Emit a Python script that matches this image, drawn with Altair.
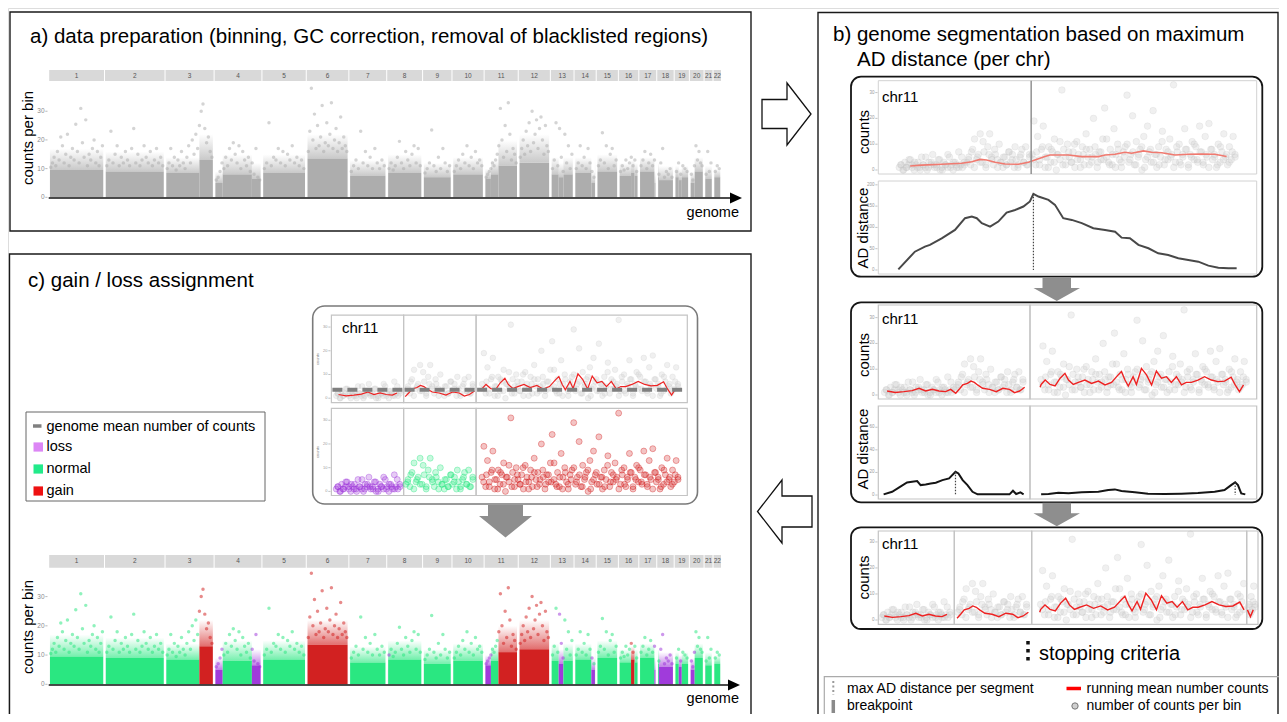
import altair as alt
import pandas as pd

FONT = "Liberation Sans"
OX, OY = 8, 8

# ------------------------------------------------------------------ data
chrom_names = [str(i) for i in range(1, 23)]
chrom_bins = [224, 243, 197, 192, 178, 171, 152, 144, 118, 129, 137, 129,
              95, 89, 89, 82, 72, 70, 61, 59, 36, 34]

seg_chrom = ["1", "2", "3", "3", "4", "4", "4", "5", "6", "7", "8", "8", "9", "10",
             "11", "11", "11", "12", "13", "13", "13", "14", "14", "14", "15",
             "16", "16", "16", "17", "17", "18", "18", "19", "19", "19", "20", "20",
             "21", "21", "22"]
seg_from = [0, 0, 0, 0.7, 0, 0.18, 0.79, 0, 0, 0, 0, 0.04, 0, 0, 0, 0.2, 0.42, 0,
            0, 0.35, 0.55, 0, 0.78, 0.95, 0, 0, 0.62, 0.79, 0, 0.87, 0, 0.12,
            0, 0.3, 0.5, 0, 0.36, 0, 0.12, 0]
seg_to = [1, 1, 0.7, 1, 0.18, 0.79, 1, 1, 1, 1, 0.04, 1, 1, 1, 0.2, 0.42, 1, 1,
          0.35, 0.55, 1, 0.78, 0.95, 1, 1, 0.62, 0.79, 1, 0.87, 1, 0.12, 1,
          0.3, 0.5, 1, 0.36, 1, 0.12, 1, 1]
seg_state = ["normal", "normal", "normal", "gain", "loss", "normal", "loss", "normal",
             "gain", "normal", "loss", "normal", "normal", "normal", "loss", "normal",
             "gain", "gain", "normal", "loss", "normal", "normal", "loss", "normal",
             "normal", "normal", "gain", "normal", "normal", "loss", "normal", "loss",
             "normal", "loss", "normal", "loss", "normal", "loss", "normal", "normal"]
# top of the solid cloud and top of the still-dense scatter above it (counts)
seg_top = [9.5, 9, 8.5, 13, 5, 8, 6.5, 8.5, 13.5, 7.5, 5, 8.5, 7, 8, 6.5, 8, 11, 12,
           8, 7, 8, 8.5, 5, 8.5, 9, 7.5, 8.5, 7.5, 9, 5, 7, 6, 7, 6, 7, 5, 9, 6, 6.5, 7]
seg_fringe = [17, 16, 14, 22, 9, 15, 12, 15, 22, 13, 9, 15, 12, 14, 10, 13, 20, 22,
              14, 12, 14, 14, 9, 14, 15, 12, 13, 12, 14, 9, 12, 11, 11, 10, 11, 9, 14,
              10, 11, 10]

out_chr1 = [10.5, 12, 14, 11, 16, 13, 21, 18, 12, 15, 22, 11, 14, 17, 13, 25.5, 16, 12,
            31, 19, 14, 27, 11, 15, 13, 17, 20, 12, 16, 11, 14, 18]
out_chr2 = [11, 13, 23, 12, 15, 18, 11, 14, 12, 16, 13, 11, 17, 24, 12, 15, 11, 13, 18,
            14, 12, 16, 11, 13, 17, 12, 14, 11]
out_chr3 = [10, 12, 17, 11, 14, 9.5, 13, 11, 16, 12, 10, 14, 18, 12, 20, 15, 22, 17, 25,
            30, 32.5, 24, 19, 21, 16, 14]
out_chr4 = [6, 7, 9, 12, 10, 14, 11, 17, 13, 19, 15, 12, 18, 10, 16, 13, 11, 14, 9, 12,
            8, 17, 7, 6]
out_chr5 = [10, 12, 26, 11, 14, 13, 17, 12, 16, 11, 15, 13, 18, 12, 14, 11, 13, 10]
out_chr6 = [16, 23, 38, 20, 29, 17, 25, 18, 21, 32, 16, 19, 26, 18, 22, 33, 17, 20, 24,
            16, 19, 28, 17, 21, 18, 16]
out_chr7 = [9, 11, 13, 10, 23, 12, 16, 11, 14, 10, 17, 12, 10, 13, 11]
out_chr8 = [10, 12, 9.5, 11, 14, 19.5, 12, 10, 16, 13, 11, 15, 18, 12, 17, 11]
out_chr9 = [8.5, 10, 12, 23.5, 11, 9, 14, 10, 17, 12, 9, 11]
out_chr10 = [9, 11, 13, 10, 15, 12, 18, 11, 14, 10, 16, 12, 13, 11]
out_chr11 = [7, 8, 9, 10, 12, 11, 13, 15, 18, 31, 20, 14, 25, 16, 33, 22, 13, 17, 15, 12]
out_chr12 = [14, 17, 20, 15, 23, 18, 26, 16, 30, 19, 22, 27, 17, 24, 28, 20, 15, 25, 18, 16]
out_chr13 = [10, 13, 26, 11, 24, 14, 9, 22, 12, 18, 10, 15]
out_chr14 = [10, 12, 18, 11, 14, 10, 17, 12, 9, 7]
out_chr15 = [11, 13, 22.5, 12, 18, 10, 15, 17, 11, 13]
out_chr16 = [9, 11, 9.5, 13, 10, 12, 14, 11, 13, 9]
out_chr17 = [11, 13, 16, 10, 12, 15, 11, 13]
out_chr18 = [8, 12, 17, 7, 9, 8, 10, 7]
out_chr19 = [9, 12, 8, 11, 10, 9]
out_chr20 = [8, 6, 11, 18, 13, 16, 12, 11]
out_chr21 = [8, 16, 9, 12]
out_chr22 = [9, 11, 10]
genome_outliers = [out_chr1, out_chr2, out_chr3, out_chr4, out_chr5, out_chr6, out_chr7,
                   out_chr8, out_chr9, out_chr10, out_chr11, out_chr12, out_chr13,
                   out_chr14, out_chr15, out_chr16, out_chr17, out_chr18, out_chr19,
                   out_chr20, out_chr21, out_chr22]

count_ticks = [0, 10, 20, 30]
ad1_ticks = [0, 50, 100, 150, 200]
ad2_ticks = [0, 20, 40, 60]

# chr11 counts per bin (segments: loss 0-27, normal 27-53, gain 53-135 Mb);
# two interleaved series of bins per segment
chr11_loss_counts = [1, 2, 0, 3, 1, 2, 4, 1, 0, 2, 3, 1, 5, 2, 1, 0, 3, 2, 6, 1, 2, 4, 0,
                     1, 3, 2, 1, 5, 2, 0, 3, 1, 7, 2, 1, 3]
chr11_loss_counts_b = [2, 0, 1, 4, 2, 3, 1, 0, 2, 5, 1, 3, 2, 1, 4, 0, 2, 6, 1, 3, 2, 1,
                       5, 2]
chr11_normal_counts = [3, 5, 2, 8, 12, 4, 6, 14, 3, 7, 1, 9, 14, 5, 2, 6, 4, 10, 3, 1, 5,
                       2, 7, 3, 6, 1, 4, 2, 5, 8, 3, 9, 2, 6]
chr11_normal_counts_b = [4, 7, 1, 5, 3, 11, 2, 6, 4, 8, 1, 3, 5, 2, 7, 4, 9, 1, 6, 3, 2, 5]
chr11_gain_counts = [6, 19, 2, 13, 4, 8, 17, 1, 5, 9, 3, 7, 12, 0, 6, 4, 31, 8, 2, 10,
                     5, 3, 7, 1, 11, 6, 4, 9, 2, 14, 5, 8, 3, 20, 6, 1, 7, 4, 12, 24,
                     5, 3, 8, 2, 16, 6, 10, 4, 1, 7, 9, 29, 3, 6, 21, 2, 11, 5, 8, 0,
                     13, 4, 17, 7, 3, 23, 6, 1, 9, 5, 15, 2, 8, 4, 12, 6, 33, 3, 7, 10,
                     2, 5, 16, 8, 1, 6, 11, 4, 9, 3, 17, 7, 2, 13, 5, 18, 8, 4, 6, 1,
                     10, 3, 7, 14, 5, 2, 9, 4, 13, 6]
chr11_gain_counts_b = [4, 7, 2, 9, 5, 1, 8, 3, 6, 11, 2, 5, 7, 3, 10, 4, 1, 6, 8, 2,
                       5, 9, 3, 7, 4, 12, 2, 6, 1, 8, 3, 5, 10, 4, 7, 2, 6, 9, 1, 5,
                       8, 3, 6, 2, 11, 4, 7, 5, 1, 9, 3, 6, 8, 2, 5, 10, 4, 7, 3, 6,
                       1, 8, 5, 2, 9, 4, 6, 3, 7, 5]
chr11_segments = [("loss", 0, 27), ("normal", 27, 53), ("gain", 53, 135)]

# running means
rm1_pos = [4.7, 9.3, 17.3, 25.3, 29.3, 32.6, 35.2, 38.6, 42.6, 47.9, 51.9, 54.5, 58.5,
           60.5, 63.8, 67.8, 73.2, 79.8, 82.5, 86.5, 90.4, 93.1, 97.8, 101.1, 105.1,
           110.4, 115.7, 121, 126.3, 131]
rm1_val = [1.55, 1.9, 2.2, 2.6, 3.2, 4.1, 3.9, 3.0, 2.3, 2.2, 3.0, 3.9, 5.2, 5.8, 5.8,
           5.8, 5.2, 5.2, 5.8, 6.1, 6.9, 6.5, 7.4, 6.9, 6.7, 5.8, 6.1, 6.2, 6.1, 5.2]
rm2a_pos = [1.3, 4.4, 7.6, 10.7, 13.3, 15.8, 18.3, 20.8, 23.3, 25.2, 27.1, 28.4, 29.7,
            31.5, 32.8, 34.1, 35.3, 37.2, 39.8, 42.3, 44.8, 47.3, 49.2, 51.1, 53]
rm2a_val = [1.55, 1.0, 1.3, 1.7, 2.6, 1.55, 2.2, 1.55, 1.3, 2.2, 0.65, 2.2, 3.9, 4.5,
            5.4, 4.9, 3.9, 2.6, 2.2, 1.3, 2.6, 2.2, 0.9, 1.55, 3.0]
rm2b_pos = [53.4, 55, 56.9, 58.9, 60.9, 62.8, 64.2, 66.1, 68.1, 70.7, 73.3, 76, 78.6,
            81.2, 83.8, 85.1, 86.5, 87.8, 89.7, 91, 93, 95, 97, 98.9, 100.9, 102.9,
            104.8, 106.8, 108.8, 110.7, 112.7, 115.3, 117.9, 120.6, 123.2, 125.8,
            128.4, 130, 131.7, 133.3]
rm2b_val = [4.1, 5.8, 4.1, 3.5, 6.5, 8.4, 5.8, 4.1, 4.9, 5.8, 4.5, 5.4, 3.9, 4.9, 7.8,
            9.1, 5.8, 3.5, 7.1, 4.1, 10.3, 7.8, 3.9, 9.3, 6.5, 7.1, 4.9, 7.1, 3.9, 4.9,
            4.9, 5.8, 7.1, 5.8, 5.2, 5.4, 6.9, 3.9, 1.3, 3.9]

# AD distances
ad1_pos = [0, 6.6, 10.6, 12.6, 17.3, 22.6, 26.6, 29.3, 31.3, 33.3, 36.6, 39.9, 43.2,
           46.6, 49.9, 52.5, 53.9, 55.9, 59.9, 62.5, 65.8, 69.2, 73.2, 77.8, 82.5, 86.5,
           89.1, 92.4, 95.8, 99.8, 103.7, 107.7, 111.7, 115.7, 119.7, 123.7, 127.7,
           131.7, 135]
ad1_val = [1.6, 43, 55, 59, 74.5, 94, 121.6, 125.5, 121.6, 110, 102, 113.7, 135, 141,
           149, 161, 179, 172.5, 164.7, 153, 121.6, 117.6, 110, 98, 94, 90, 76, 74.5,
           59, 51, 39.2, 35.3, 27.5, 23.5, 19.6, 10.2, 5.5, 3.9, 3.9]
ad2a_pos = [0, 3.2, 6.3, 8.8, 10.7, 12.6, 13.9, 15.8, 17.7, 19.6, 22.1, 24.6, 27, 28.1,
            29.7, 31.5, 33.4, 35.3, 41, 47.3, 48.6, 49.8, 51.4, 52.6]
ad2a_val = [0.6, 2.9, 7.4, 11.2, 11.8, 12.4, 8.8, 9.4, 10.3, 10.9, 13.2, 14.7, 20.6,
            19.1, 13.2, 8.8, 2.9, 0.6, 0.6, 0.6, 3.8, 0.9, 2.4, 0.6]
ad2b_pos = [53.4, 56.3, 60.2, 64.2, 69.4, 76, 79.9, 82.5, 85.1, 90.4, 95.6, 102.2,
            108.8, 115.3, 121.9, 125.8, 128.4, 130, 131.1, 132.4, 134]
ad2b_val = [0.6, 0.9, 2.1, 1.5, 2.4, 2.9, 4.4, 5, 3.5, 2.4, 1.2, 0.9, 1.2, 1.8, 2.9,
            4.4, 8.8, 11.2, 8.8, 1.5, 0.6]

breakpoint_1 = [53]
ad1_peak = [(53.9, 179)]
ad2_peaks = [(27, 20.6), (130, 11.2)]
genome_mean = 3.6

state_domain = ["loss", "normal", "gain"]
state_colors = ["#9b30d9", "#1fe67a", "#d01515"]
state_rgb = [(155, 48, 217), (31, 230, 122), (208, 21, 21)]
legend_colors = ["#dc86f5", "#22ea8a", "#ee1111"]
GREY_RGB = (168, 168, 168)

# ------------------------------------------------------------------ helpers
def V(x):
    return x - OX


def W(y):
    return y - OY


def sx(d0, d1, p0, p1):
    return alt.Scale(domain=[d0, d1], range=[V(p0), V(p1)], nice=False, zero=False)


def sy(d0, d1, pb, pt):
    return alt.Scale(domain=[d0, d1], range=[W(pb), W(pt)], nice=False, zero=False)


def rect(x0, y0, x1, y1, fill="transparent", stroke=None, sw=1.0, radius=0):
    kw = dict(fill=fill, cornerRadius=radius)
    if stroke:
        kw.update(stroke=stroke, strokeWidth=sw)
    return alt.Chart().mark_rect(**kw).encode(
        x=alt.value(V(x0)), x2=alt.value(V(x1)), y=alt.value(W(y0)), y2=alt.value(W(y1)))


def text(s, x, y, size=14.5, align="left", angle=0, color="black", baseline="middle"):
    kw = dict(text=s, fontSize=size, align=align, color=color, baseline=baseline, font=FONT)
    if angle:
        kw["angle"] = angle
    return alt.Chart().mark_text(**kw).encode(x=alt.value(V(x)), y=alt.value(W(y)))


def rule(x0, y0, x1, y1, color="black", sw=1.0, dash=None):
    kw = dict(color=color, strokeWidth=sw)
    if dash:
        kw["strokeDash"] = dash
    return alt.Chart().mark_rule(**kw).encode(
        x=alt.value(V(x0)), y=alt.value(W(y0)), x2=alt.value(V(x1)), y2=alt.value(W(y1)))


def polygon(pts, fill, stroke=None, sw=1.0):
    xs_ = [p[0] for p in pts]
    ys_ = [p[1] for p in pts]
    cx = (min(xs_) + max(xs_)) / 2
    cy = (min(ys_) + max(ys_)) / 2
    r = max(max(xs_) - min(xs_), max(ys_) - min(ys_)) / 2
    path = "M" + " L".join(f"{(x - cx) / r:.4f},{(y - cy) / r:.4f}" for x, y in pts) + " Z"
    kw = dict(shape=path, size=(2 * r) ** 2, filled=True, fill=fill, opacity=1, fillOpacity=1)
    if stroke:
        kw.update(stroke=stroke, strokeWidth=sw)
    else:
        kw.update(strokeWidth=0)
    return alt.Chart().mark_point(**kw).encode(x=alt.value(V(cx)), y=alt.value(W(cy)))


def yticks(ticks, ysc, x_right, size, color="#9a9a9a"):
    df = pd.DataFrame({"v": ticks})
    return [
        alt.Chart(df).mark_text(align="right", baseline="middle", fontSize=size,
                                color=color, font=FONT).encode(
            x=alt.value(V(x_right)), y=alt.Y("v:Q", scale=ysc, axis=None), text="v:Q"),
        alt.Chart(df).mark_rule(color=color, strokeWidth=0.6).encode(
            x=alt.value(V(x_right + 0.8)), x2=alt.value(V(x_right + 3)),
            y=alt.Y("v:Q", scale=ysc, axis=None)),
    ]


def line(pos, val, xsc, ysc, color, sw):
    df = pd.DataFrame({"p": pos, "v": val})
    return alt.Chart(df).mark_line(color=color, strokeWidth=sw).encode(
        x=alt.X("p:Q", scale=xsc, axis=None), y=alt.Y("v:Q", scale=ysc, axis=None))


def points(df, xsc, ysc, color, size, opacity, stroke_op=None):
    kw = dict(size=size, color=color, fillOpacity=opacity)
    if stroke_op:
        kw.update(stroke=color, strokeOpacity=stroke_op, strokeWidth=0.7)
    else:
        kw.update(strokeWidth=0)
    return alt.Chart(df).mark_circle(**kw).encode(
        x=alt.X("pos:Q", scale=xsc, axis=None), y=alt.Y("cnt:Q", scale=ysc, axis=None))


def peak_lines(peaks, xsc, ysc, color="#444444", sw=1.2):
    df = pd.DataFrame({"p": [p for p, _ in peaks], "t": [t for _, t in peaks],
                       "b": [0] * len(peaks)})
    return alt.Chart(df).mark_rule(color=color, strokeWidth=sw, strokeDash=[1.5, 1.5]).encode(
        x=alt.X("p:Q", scale=xsc, axis=None), y=alt.Y("t:Q", scale=ysc, axis=None), y2="b:Q")


def fade(rgb, a0, a1):
    r, g, b = rgb
    return alt.LinearGradient(
        gradient="linear", x1=0, y1=1, x2=0, y2=0,
        stops=[alt.GradientStop(offset=0, color=f"rgba({r},{g},{b},{a0})"),
               alt.GradientStop(offset=1, color=f"rgba({r},{g},{b},{a1})")])


# ------------------------------------------------------------------ derived tables
chrom_start = []
acc = 0
for b in chrom_bins:
    chrom_start.append(acc)
    acc += b
total_bins = acc
start_of = dict(zip(chrom_names, chrom_start))
bins_of = dict(zip(chrom_names, chrom_bins))

chrom_df = pd.DataFrame({
    "chrom": chrom_names,
    "x0": [s + 2 for s in chrom_start],
    "x1": [s + b - 2 for s, b in zip(chrom_start, chrom_bins)],
    "mid": [s + b / 2 for s, b in zip(chrom_start, chrom_bins)],
})

seg_rows = []
for c, f0, f1, st, top, fr in zip(seg_chrom, seg_from, seg_to, seg_state, seg_top, seg_fringe):
    s, b = start_of[c], bins_of[c]
    seg_rows.append({"x0": s + max(f0 * b, 5), "x1": s + min(f1 * b, b - 5),
                     "top": top, "fringe": fr, "base": 0, "state": st})
seg_df = pd.DataFrame(seg_rows)

pt_rows = []
for c, vals in zip(chrom_names, genome_outliers):
    s, b = start_of[c], bins_of[c]
    n = len(vals)
    for i, v in enumerate(vals):
        f = (i + 0.5) / n
        st = "normal"
        for cc, f0, f1, sst in zip(seg_chrom, seg_from, seg_to, seg_state):
            if cc == c and f0 <= f < f1:
                st = sst
        pt_rows.append({"x": s + 5 + f * (b - 10), "v": v, "state": st})
gpts_df = pd.DataFrame(pt_rows)

rows11 = []
for (state, p0, p1), series in zip(
        chr11_segments,
        [(chr11_loss_counts, chr11_loss_counts_b),
         (chr11_normal_counts, chr11_normal_counts_b),
         (chr11_gain_counts, chr11_gain_counts_b)]):
    for k, vals in enumerate(series):
        n = len(vals)
        for i, v in enumerate(vals):
            rows11.append({"pos": p0 + (i + 0.5 + 0.37 * k) * (p1 - p0) / (n + 0.4),
                           "cnt": v, "state": state})
pts11 = pd.DataFrame(rows11)

rm2_pos = rm2a_pos + rm2b_pos
rm2_val = rm2a_val + rm2b_val

state_scale = alt.Scale(domain=state_domain, range=state_colors)

L = []

# ------------------------------------------------------------------ frames & titles
L.append(rect(10, 12, 751, 231, stroke="#1a1a1a", sw=1.4))
L.append(rect(818, 12.5, 1278, 760, stroke="#1a1a1a", sw=1.4))
L.append(rect(9.5, 254, 751, 760, stroke="#1a1a1a", sw=1.4))
L.append(text("a) data preparation (binning, GC correction, removal of blacklisted regions)",
              30, 37, size=20.5))
L.append(text("b) genome segmentation based on maximum", 833, 35, size=20.5))
L.append(text("AD distance (per chr)", 857, 60, size=20.5))
L.append(text("c) gain / loss assignment", 28, 281, size=20.5))


# ------------------------------------------------------------------ genome panels
def genome_panel(strip_top, strip_bot, zero_y, top_y, ymax, colored, line_y, tip_x,
                 genome_y, ylab_y):
    out = []
    xsc = sx(0, total_bins, 48.7, 721.5)
    ysc = sy(0, ymax, zero_y, top_y)
    out.append(alt.Chart(chrom_df).mark_rect(color="#d9d9d9").encode(
        x=alt.X("x0:Q", scale=xsc, axis=None), x2="x1:Q",
        y=alt.value(W(strip_top)), y2=alt.value(W(strip_bot))))
    out.append(alt.Chart(chrom_df).mark_text(fontSize=6.5, color="#555555", font=FONT).encode(
        x=alt.X("mid:Q", scale=xsc, axis=None), y=alt.value(W((strip_top + strip_bot) / 2)),
        text="chrom:N"))
    # fading scatter region above the solid cloud
    groups = (list(zip(state_domain, state_rgb)) if colored else [(None, GREY_RGB)])
    for st, rgb in groups:
        df = seg_df if st is None else seg_df[seg_df.state == st]
        out.append(alt.Chart(df).mark_rect(color=fade(rgb, 0.62, 0.0)).encode(
            x=alt.X("x0:Q", scale=xsc, axis=None), x2="x1:Q",
            y=alt.Y("fringe:Q", scale=ysc, axis=None), y2="top:Q"))
    col = (alt.Color("state:N", scale=state_scale, legend=None) if colored
           else alt.value("#a9a9a9"))
    out.append(alt.Chart(gpts_df).mark_circle(size=12, opacity=0.5).encode(
        x=alt.X("x:Q", scale=xsc, axis=None), y=alt.Y("v:Q", scale=ysc, axis=None), color=col))
    out.append(alt.Chart(seg_df).mark_rect(opacity=0.95).encode(
        x=alt.X("x0:Q", scale=xsc, axis=None), x2="x1:Q",
        y=alt.Y("top:Q", scale=ysc, axis=None), y2="base:Q", color=col))
    out += yticks(count_ticks, ysc, 44.5, 6.5, "#8c8c8c")
    out.append(rule(48.7, line_y, 731, line_y, color="#111111", sw=1.6))
    out.append(polygon([(tip_x - 12, line_y - 5.5), (tip_x, line_y), (tip_x - 12, line_y + 5.5)],
                       "black"))
    out.append(text("genome", 739, genome_y, size=14.5, align="right"))
    out.append(text("counts per bin", 28, ylab_y, size=15, align="center", angle=270))
    return out


L += genome_panel(70, 81, 197.3, 82, 40.2, False, 198, 742, 213, 138)
L += genome_panel(555, 567.7, 684.3, 570, 39.1, True, 685, 740, 699, 627)

# ------------------------------------------------------------------ panel b, stage 1
PB = "#d2d2d2"
L.append(rect(851, 76.7, 1262.3, 276.7, fill="white", stroke="#151515", sw=1.8, radius=10))
L.append(rect(878.3, 80.7, 1256.7, 174, stroke=PB))
L.append(rect(878.3, 181, 1256.7, 274, stroke=PB))
b1x = sx(-8, 143, 878.3, 1256.7)
b1y = sy(-1.55, 34.6, 174, 80.7)
b1ad = sy(-9.4, 209, 274, 181)
L.append(points(pts11, b1x, b1y, "#c4c4c4", 44, 0.25, 0.3))
L.append(line(rm1_pos, rm1_val, b1x, b1y, "#f07a70", 1.6))
L.append(alt.Chart(pd.DataFrame({"p": breakpoint_1})).mark_rule(color="#8a8a8a", strokeWidth=1.4).encode(
    x=alt.X("p:Q", scale=b1x, axis=None), y=alt.value(W(80.7)), y2=alt.value(W(174))))
L.append(line(ad1_pos, ad1_val, b1x, b1ad, "#484848", 2.0))
L.append(peak_lines(ad1_peak, b1x, b1ad))
L += yticks(count_ticks, b1y, 874.5, 4.5)
L += yticks(ad1_ticks, b1ad, 874.5, 4.5)
L.append(text("chr11", 882, 97, size=15))
L.append(text("counts", 864, 132, size=15, align="center", angle=270))
L.append(text("AD distance", 863, 228, size=15, align="center", angle=270))

# ------------------------------------------------------------------ panel b, stage 2
L.append(rect(851, 302.3, 1262.3, 502.3, fill="white", stroke="#151515", sw=1.8, radius=10))
b2y = sy(-1.55, 34.9, 399, 305)
b2ad = sy(-3.5, 78.8, 499, 406)
facets2 = [(-2, 55, 878.3, 1030, 0, 53), (49, 138.5, 1030, 1256.7, 53, 135.1)]
for d0, d1, p0, p1, lo, hi in facets2:
    L.append(rect(p0, 305, p1, 399, stroke="#c4c4c4", sw=1.2))
    L.append(rect(p0, 406, p1, 499, stroke="#c4c4c4", sw=1.2))
for k, (d0, d1, p0, p1, lo, hi) in enumerate(facets2):
    fx = sx(d0, d1, p0, p1)
    sub = pts11[(pts11.pos >= lo) & (pts11.pos < hi)]
    L.append(points(sub, fx, b2y, "#c4c4c4", 44, 0.25, 0.3))
    rp = [(p, v) for p, v in zip(rm2_pos, rm2_val) if lo <= p <= hi]
    L.append(line([p for p, _ in rp], [v for _, v in rp], fx, b2y, "#ee2222", 1.4))
    adp, adv = (ad2a_pos, ad2a_val) if k == 0 else (ad2b_pos, ad2b_val)
    L.append(line(adp, adv, fx, b2ad, "#151515", 2.0))
    L.append(peak_lines([ad2_peaks[k]], fx, b2ad))
L += yticks(count_ticks, b2y, 874.5, 4.5)
L += yticks(ad2_ticks, b2ad, 874.5, 4.5)
L.append(text("chr11", 882, 318.5, size=15))
L.append(text("counts", 864, 355, size=15, align="center", angle=270))
L.append(text("AD distance", 863, 449, size=15, align="center", angle=270))

# ------------------------------------------------------------------ panel b, stage 3
L.append(rect(851, 527.3, 1262.3, 629, fill="white", stroke="#151515", sw=1.8, radius=10))
b3y = sy(-1.65, 34.2, 624.3, 531)
facets3 = [(-1, 28, 878.3, 954.3, 0, 27), (26.1, 54.2, 954.3, 1031.7, 27, 53),
           (50, 131, 1031.7, 1246.7, 53, 130), (129.6, 136, 1246.7, 1258, 130, 135.1)]
for d0, d1, p0, p1, lo, hi in facets3:
    L.append(rect(p0, 531, min(p1, 1261), 624.3, stroke="#c4c4c4", sw=1.2))
for d0, d1, p0, p1, lo, hi in facets3:
    fx = sx(d0, d1, p0, p1)
    sub = pts11[(pts11.pos >= lo) & (pts11.pos < hi)]
    L.append(points(sub, fx, b3y, "#c4c4c4", 44, 0.25, 0.3))
    rp = [(p, v) for p, v in zip(rm2_pos, rm2_val) if lo <= p <= hi]
    L.append(line([p for p, _ in rp], [v for _, v in rp], fx, b3y, "#ee2222", 1.4))
L += yticks(count_ticks, b3y, 874.5, 4.5)
L.append(text("chr11", 882, 543.5, size=15))
L.append(text("counts", 864, 577.5, size=15, align="center", angle=270))

# gray down arrows in panel b
for top in (277.5, 502.8):
    L.append(polygon([(1042.5, top), (1071, top), (1071, top + 10.5), (1080, top + 10.5),
                      (1056.8, top + 23.5), (1033.5, top + 10.5), (1042.5, top + 10.5)],
                     "#8e8e8e"))

# stopping criteria
L.append(rule(1028, 641, 1028, 664, color="#111111", sw=3.5, dash=[3.5, 4.5]))
L.append(text("stopping criteria", 1039, 653.5, size=20))

# legend of panel b
L.append(rect(824.3, 676.7, 1300, 760, stroke="#aaaaaa", sw=1.2))
L.append(rule(833.3, 681, 833.3, 695, color="#9a9a9a", sw=2, dash=[2, 2.5]))
L.append(text("max AD distance per segment", 847, 688.5, size=14))
L.append(rule(833.3, 700, 833.3, 713, color="#8a8a8a", sw=3.5))
L.append(text("breakpoint", 847, 706, size=14))
L.append(rule(1066.5, 688.5, 1081, 688.5, color="#ff0000", sw=3.5))
L.append(text("running mean number counts", 1086.5, 688.5, size=14))
L.append(alt.Chart().mark_circle(size=40, color="#cfcfcf", stroke="#777777", strokeWidth=1,
                                 opacity=1).encode(x=alt.value(V(1075)), y=alt.value(W(706))))
L.append(text("number of counts per bin", 1086.5, 706, size=14))

# ------------------------------------------------------------------ panel c inset
L.append(rect(312.7, 306, 697.5, 504, fill="white", stroke="#7a7a7a", sw=1.6, radius=12))
cy_up = sy(-1.86, 35, 402.6, 315.2)
cy_lo = sy(-1.73, 35, 495.5, 408.4)
facetsc = [(-1.6, 27.9, 331.4, 403.6, 0, 27, "loss"),
           (26.5, 53.6, 403.6, 476.1, 27, 53, "normal"),
           (50.9, 138.2, 476.1, 687.3, 53, 135.1, "gain")]
for d0, d1, p0, p1, lo, hi, st in facetsc:
    L.append(rect(p0, 315.2, p1, 402.6, stroke="#c4c4c4", sw=1.2))
    L.append(rect(p0, 408.4, p1, 495.5, stroke="#c4c4c4", sw=1.2))
for d0, d1, p0, p1, lo, hi, st in facetsc:
    fx = sx(d0, d1, p0, p1)
    sub = pts11[(pts11.pos >= lo) & (pts11.pos < hi)]
    L.append(points(sub, fx, cy_up, "#c4c4c4", 32, 0.25, 0.3))
    rp = [(p, v) for p, v in zip(rm2_pos, rm2_val) if lo <= p <= hi]
    L.append(line([p for p, _ in rp], [v for _, v in rp], fx, cy_up, "#ee2222", 1.2))
    L.append(alt.Chart(pd.DataFrame({"m": [genome_mean]})).mark_rule(
        color="#7f7f7f", strokeWidth=4, strokeDash=[10, 5]).encode(
        x=alt.value(V(p0 + 1)), x2=alt.value(V(p1 - 1)), y=alt.Y("m:Q", scale=cy_up, axis=None)))
    L.append(points(sub, fx, cy_lo, state_colors[state_domain.index(st)], 36, 0.25, 0.5))
L += yticks(count_ticks, cy_up, 327.5, 4)
L += yticks(count_ticks, cy_lo, 327.5, 4)
L.append(text("counts", 318, 359, size=4, align="center", angle=270, color="#777777"))
L.append(text("counts", 318, 452, size=4, align="center", angle=270, color="#777777"))
L.append(text("chr11", 342, 327.5, size=15))

# gray arrow below the inset
L.append(polygon([(488, 505), (523, 505), (523, 516), (532, 516), (505.5, 537.5),
                  (479, 516), (488, 516)], "#8e8e8e"))

# legend of panel c
L.append(rect(26, 412, 265, 501, fill="white", stroke="#666666", sw=1))
L.append(rule(33, 426, 41.5, 426, color="#808080", sw=3.5))
L.append(text("genome mean number of counts", 46.5, 426.5, size=14.5))
for (lab, col_), yc in zip(zip(state_domain, legend_colors), [447, 469, 491]):
    L.append(rect(33.5, yc - 4.6, 43, yc + 4.6, fill=col_))
    L.append(text(lab, 46.5, yc, size=14.5))

# ------------------------------------------------------------------ hollow arrows
L.append(polygon([(762, 99.5), (787, 99.5), (787, 83), (811, 114), (787, 145), (787, 128.5),
                  (762, 128.5)], "white", stroke="#111111", sw=1.3))
L.append(polygon([(812, 496), (782, 496), (782, 480), (757.5, 511.5), (782, 543), (782, 527),
                  (812, 527)], "white", stroke="#111111", sw=1.3))

chart = alt.layer(*L).resolve_scale(x="independent", y="independent", color="independent").properties(
    width=1271, height=706, padding=0,
    autosize=alt.AutoSizeParams(type="none"),
).configure_view(stroke=None).configure(background="white")

chart.save("out.html", embed_options={"renderer": "svg", "actions": False})
